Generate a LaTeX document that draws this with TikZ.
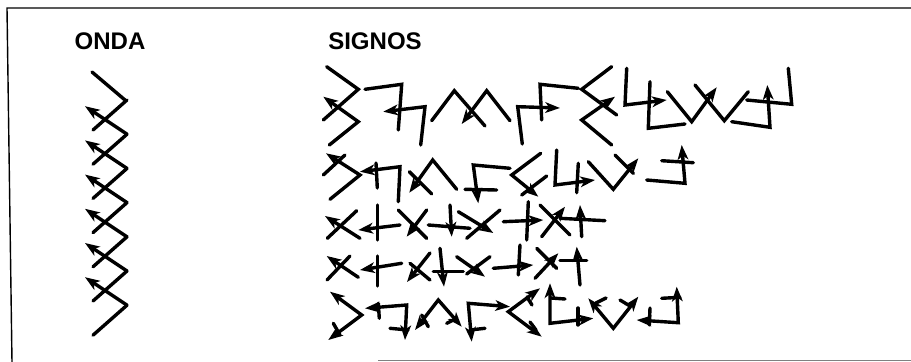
\documentclass[tikz,border=0pt]{standalone}
\usepackage{fontspec}
\setmainfont{Liberation Sans}
\usetikzlibrary{arrows.meta}

\begin{document}
\begin{tikzpicture}[x=0.03cm, y=-0.03cm,
    trazo/.style={line width=2.9pt, line cap=round, line join=miter},
    punta/.style={-{Stealth[length=4.4mm, width=3.2mm, inset=1.2mm]}},
    doble/.style={{Stealth[length=4.4mm, width=3.2mm, inset=1.2mm]}-{Stealth[length=4.4mm, width=3.2mm, inset=1.2mm]}},
    titulo/.style={font=\bfseries\fontsize{20.5}{24}\selectfont, inner sep=0pt}]
    \useasboundingbox (0,0) rectangle (911,362);

    % marco
    \draw[line width=1.2pt] (911,8) -- (7,8) -- (12,362);
    \draw[line width=1pt, gray] (378,360.5) -- (911,360.5);

    \node (onda) [titulo] at (110,41.5) {ONDA};
    \node (signos) [titulo] at (375,41.5) {SIGNOS};

    % onda
    \draw[trazo] (92,72) -- (125,100);
    \foreach \i in {0,...,6}
        \draw[trazo] (127,{100+34.2*\i}) -- ++(-34,30);
    \foreach \i in {1,...,6}
        \draw[trazo,punta] (127,{100+34.2*\i}) -- ++(-42,-28);

    % signos, fila 1
    \draw[trazo] (326.7,66.7) -- (358.3,89.3) -- (323.3,120);
    \draw[trazo,punta] (329.3,145) -- (358.3,121.7) -- (323.3,96.7);
    \draw[trazo] (365,89.3) -- (401.7,84.3) -- (398.3,130);
    \draw[trazo,punta] (420.7,145) -- (425,106.7) -- (383.3,111.7);
    \draw[trazo] (431.7,120.7) -- (454.3,90.7) -- (485,126);
    \draw[trazo,punta] (510,120.7) -- (486.7,90.7) -- (461.7,124);
    \draw[trazo] (578.3,88.3) -- (540,84.3) -- (541.7,120);
    \draw[trazo,punta] (522.3,144) -- (517.7,106.7) -- (560,108);
    \draw[trazo] (611.7,66.7) -- (581.7,89.3) -- (616.7,115);
    \draw[trazo,punta] (611.7,145) -- (581.7,120) -- (615,96.7);
    \draw[trazo,punta] (626.7,68.3) -- (625,105) -- (666.7,100);
    \draw[trazo] (650,81.7) -- (648.3,128.3) -- (685,124);
    \draw[trazo,punta] (667.3,91.7) -- (691.7,121.7) -- (716.7,87.3);
    \draw[trazo] (748.3,91.7) -- (724.3,120.7) -- (695,85);
    \draw[trazo,punta] (731.7,121.7) -- (770,127.3) -- (767.3,85);
    \draw[trazo] (788.3,68.3) -- (791.7,104.3) -- (746.7,100);

    % fila 2
    \draw[trazo,punta] (330,199.3) -- (360,175) -- (326,153.3);
    \draw[trazo] (323.3,175) -- (345,155);
    \draw[trazo,punta] (398.3,201.7) -- (400,166.7) -- (360,171.7);
    \draw[trazo] (376,163) -- (377.3,188);
    \draw[trazo,punta] (456.7,189.3) -- (432.7,160) -- (409.3,192.7);
    \draw[trazo] (409.3,171.7) -- (431.7,194);
    \draw[trazo,punta] (510,168.3) -- (473.3,165) -- (478.3,203.3);
    \draw[trazo] (465,189.3) -- (496.7,190);
    \draw[trazo,punta] (540.7,153.3) -- (511.7,175) -- (538.3,196.7);
    \draw[trazo] (546.7,176) -- (521.7,195);
    \draw[trazo,punta] (556.7,150) -- (555,185) -- (595,180);
    \draw[trazo] (578.3,163.3) -- (576.7,192.7);
    \draw[trazo,punta] (588.3,161.7) -- (613.3,189.3) -- (638.3,158.3);
    \draw[trazo] (615,155) -- (633.3,173.3);
    \draw[trazo,punta] (646.7,180) -- (685,183.3) -- (681.7,145);
    \draw[trazo] (661.7,160.7) -- (693.3,162.7);

    % fila 3
    \draw[trazo,punta] (360,238.3) -- (325,216);
    \draw[trazo] (356.7,210.7) -- (327.3,238.3);
    \draw[trazo,punta] (400,225) -- (358.3,230);
    \draw[trazo] (377.3,205) -- (377.3,240);
    \draw[trazo,punta] (426.7,210) -- (406.7,236.7);
    \draw[trazo] (398.3,210) -- (426.7,238.3);
    \draw[trazo,punta] (450,205) -- (451.7,236.7);
    \draw[trazo] (428.3,225) -- (470,228.3);
    \draw[trazo,punta] (458.3,211.7) -- (493.3,233);
    \draw[trazo] (500,210) -- (466.7,238.3);
    \draw[trazo,punta] (503.3,221.7) -- (543.3,220);
    \draw[trazo] (528.3,201.7) -- (526.7,240);
    \draw[trazo,punta] (541.7,236.7) -- (565,206.7);
    \draw[trazo] (540,205) -- (570,235);
    \draw[trazo,punta] (581.7,236.7) -- (580,205);
    \draw[trazo] (560,218.3) -- (605,220.7);

    % fila 4
    \draw[trazo,punta] (358.3,277.3) -- (326.7,256);
    \draw[trazo] (350,256) -- (327,280);
    \draw[trazo,punta] (401.7,263.3) -- (360,270);
    \draw[trazo] (377.3,256) -- (377.3,286);
    \draw[trazo,punta] (430,253) -- (407,282);
    \draw[trazo] (410,263.3) -- (430,280);
    \draw[trazo,punta] (440,248.3) -- (444,286.7);
    \draw[trazo] (433.3,271.7) -- (463.3,271.7);
    \draw[trazo,punta] (456.7,256.7) -- (485,276.7);
    \draw[trazo] (490,256.7) -- (466.7,274);
    \draw[trazo,punta] (493.3,268.3) -- (533.3,265);
    \draw[trazo] (520,245) -- (518.3,275);
    \draw[trazo,punta] (535,278.3) -- (558.3,253.3);
    \draw[trazo] (536.7,248.3) -- (556.7,268.3);
    \draw[trazo,punta] (580,285) -- (576.7,246.7);
    \draw[trazo] (560,260.7) -- (586.7,260.7);

    % fila 5
    \draw[trazo,doble] (330,291.7) -- (361.7,315) -- (328.3,340);
    \draw[trazo] (333.3,323.3) -- (340,335);
    \draw[trazo,doble] (365,308.3) -- (406.7,305) -- (405,340);
    \draw[trazo] (378.3,303.3) -- (379.3,318.3);
    \draw[trazo] (390,328.3) -- (408,330);
    \draw[trazo,doble] (415,330) -- (438.3,300) -- (461.7,326.7);
    \draw[trazo] (421.7,315) -- (428.3,326.7);
    \draw[trazo] (446.7,323.3) -- (456.7,318.3);
    \draw[trazo,doble] (510,306.7) -- (468.3,303.3) -- (471.7,341.7);
    \draw[trazo] (470,330) -- (485,328.3);
    \draw[trazo,doble] (540,288.3) -- (508.3,311.7) -- (541.7,336.7);
    \draw[trazo] (527,297) -- (532,305);
    \draw[trazo] (530,322) -- (536,330);
    \draw[trazo,doble] (550,283.3) -- (550,323.3) -- (593.3,318.3);
    \draw[trazo] (551,298) -- (565,299);
    \draw[trazo] (578,308) -- (578,325);
    \draw[trazo,doble] (588.3,298.3) -- (613.3,328.3) -- (638.3,296.7);
    \draw[trazo] (596,303) -- (606,298);
    \draw[trazo] (620,300) -- (630,306);
    \draw[trazo,doble] (636.7,320) -- (678.3,322.7) -- (676.7,286.7);
    \draw[trazo] (650,308) -- (649.3,325);
    \draw[trazo] (661.7,298.3) -- (680,297.3);
\end{tikzpicture}
\end{document}
